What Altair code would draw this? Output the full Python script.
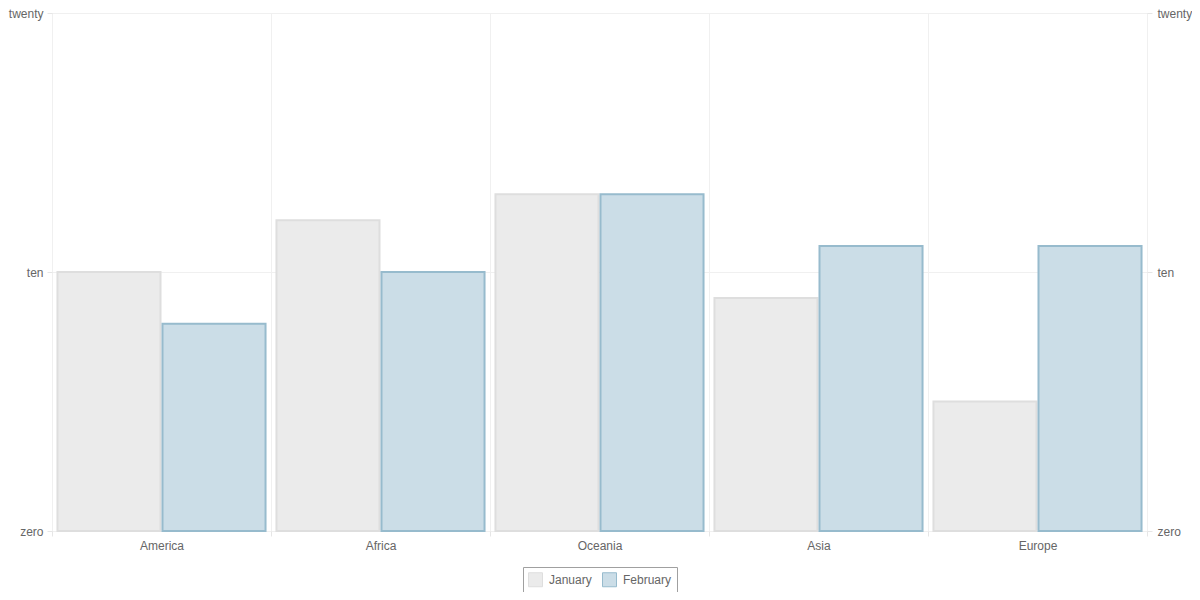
import altair as alt
import pandas as pd

regions = ["America", "Africa", "Oceania", "Asia", "Europe"]
months = ["January", "February"]
january = [10, 12, 13, 9, 5]
february = [8, 10, 13, 11, 11]
fills = ["#ebebeb", "#cbdde7"]
strokes = ["#dedede", "#97bbcd"]

rows = []
for r, j, f in zip(regions, january, february):
    rows.append({"region": r, "month": "January", "value": j})
    rows.append({"region": r, "month": "February", "value": f})
df = pd.DataFrame(rows)

FONT = "Liberation Sans"
label_expr = "datum.value == 0 ? 'zero' : datum.value == 10 ? 'ten' : 'twenty'"

xenc = alt.X("region:N", sort=regions, title=None,
             scale=alt.Scale(paddingInner=0, paddingOuter=0),
             axis=alt.Axis(labelAngle=0, tickBand="extent", grid=True,
                           gridColor="#f0f0f0", tickColor="#e6e6e6", tickSize=5,
                           domain=False, labelColor="#666666", labelFont=FONT,
                           labelFontSize=12, labelPadding=4))
xoff = alt.XOffset("month:N", sort=months,
                   scale=alt.Scale(paddingInner=0.019, paddingOuter=0.052))
yscale = alt.Scale(domain=[0, 20], nice=False)

left = alt.Chart(df).mark_bar(strokeWidth=2).encode(
    x=xenc,
    xOffset=xoff,
    y=alt.Y("value:Q", scale=yscale, title=None,
            axis=alt.Axis(values=[0, 10, 20], labelExpr=label_expr, orient="left",
                          grid=True, gridColor="#f0f0f0", tickColor="#e6e6e6",
                          tickSize=5, domain=False, labelColor="#666666",
                          labelFont=FONT, labelFontSize=12, labelPadding=4)),
    fill=alt.Fill("month:N", sort=months,
                  scale=alt.Scale(domain=months, range=fills),
                  legend=alt.Legend(title=None, orient="none", direction="horizontal",
                                    legendX=471, legendY=554, strokeColor="#a0a0a0",
                                    padding=5, symbolType="square", symbolSize=196,
                                    symbolStrokeWidth=1, labelColor="#666666",
                                    labelFont=FONT, labelFontSize=12,
                                    columnPadding=8, labelOffset=6)),
    stroke=alt.Stroke("month:N", sort=months,
                      scale=alt.Scale(domain=months, range=strokes), legend=None),
)

right = alt.Chart(df).mark_bar(opacity=0).encode(
    x=xenc,
    xOffset=xoff,
    y=alt.Y("value:Q", scale=yscale, title=None,
            axis=alt.Axis(values=[0, 10, 20], labelExpr=label_expr, orient="right",
                          grid=False, tickColor="#e6e6e6", tickSize=5, domain=False,
                          labelColor="#666666", labelFont=FONT, labelFontSize=12,
                          labelPadding=5)),
)

chart = alt.layer(left, right).resolve_axis(y="independent").properties(
    width=1095, height=518,
    autosize=alt.AutoSizeParams(type="none"),
    padding={"left": 44, "top": 5, "right": 45, "bottom": 61},
).configure_view(stroke=None).configure(background="white")

chart.save("out.html", embed_options={"renderer": "svg", "actions": False})
